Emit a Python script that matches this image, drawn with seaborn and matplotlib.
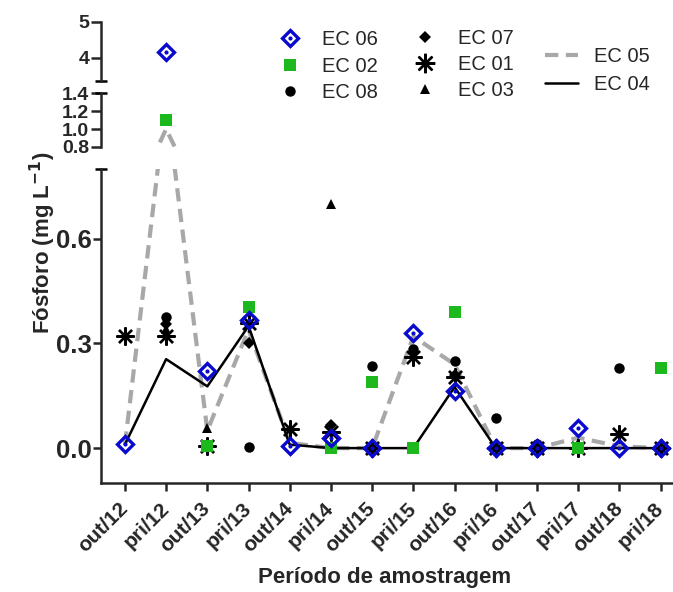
import numpy as np
import pandas as pd
import matplotlib
matplotlib.use("Agg")
import matplotlib.pyplot as plt
import seaborn as sns
from matplotlib.lines import Line2D
from matplotlib.legend_handler import HandlerTuple
from matplotlib.ticker import FixedLocator, FormatStrFormatter

sns.set_theme(style="ticks")
plt.rcParams['font.family'] = ['Liberation Sans', 'DejaVu Sans']

nan = np.nan
categories = ['out/12', 'pri/12', 'out/13', 'pri/13', 'out/14', 'pri/14', 'out/15',
              'pri/15', 'out/16', 'pri/16', 'out/17', 'pri/17', 'out/18', 'pri/18']

ec06 = [0.012, 4.15, 0.22, 0.368, 0.005, 0.03, 0.0, 0.33, 0.163, 0.0, 0.0, 0.057, 0.0, 0.0]
ec02 = [nan, 1.10, 0.005, 0.405, nan, 0.0, 0.19, 0.0, 0.39, nan, nan, 0.0, nan, 0.23]
ec08 = [nan, 0.375, nan, 0.003, nan, nan, 0.234, 0.283, 0.25, 0.085, 0.012, nan, 0.23, nan]
ec07 = [nan, 0.355, nan, 0.30, nan, 0.065, nan, nan, 0.21, nan, nan, nan, nan, nan]
ec01 = [0.32, 0.32, 0.005, 0.36, 0.055, 0.045, 0.0, 0.26, 0.205, 0.0, 0.0, 0.0, 0.04, 0.0]
ec03 = [nan, 0.34, 0.057, nan, nan, 0.70, nan, nan, nan, nan, nan, 0.015, nan, nan]
ec05 = [0.01, 1.0, 0.05, 0.34, 0.015, 0.0, 0.0, 0.32, 0.24, 0.0, 0.0, 0.03, 0.005, 0.0]
ec04 = [0.01, 0.255, 0.177, 0.35, 0.01, 0.0, 0.0, 0.0, 0.175, 0.0, 0.0, 0.0, 0.0, 0.0]

xpos = np.arange(len(categories))
BLUE = '#0A0ACF'
GREEN = '#1DB81D'
GREY = '#A8A8A8'

W, H = 673, 592
fig = plt.figure(figsize=(W / 100, H / 100), dpi=100)

def fx(px):
    return px / W

def fy(py):
    return 1 - py / H

ax_b = fig.add_axes([fx(101), fy(483), fx(673) - fx(101), fy(169) - fy(483)])
ax_m = fig.add_axes([fx(101), fy(147), fx(673) - fx(101), fy(93) - fy(147)])
ax_t = fig.add_axes([fx(101), fy(81), fx(673) - fx(101), fy(22) - fy(81)])
axes = [ax_b, ax_m, ax_t]

df_lines = pd.DataFrame({'x': xpos, 'EC 05': ec05, 'EC 04': ec04})
DASH = (0, (3.2, 1.8))

for ax in axes:
    sns.lineplot(data=df_lines, x='x', y='EC 05', ax=ax, color=GREY, lw=3.0,
                 linestyle=DASH, estimator=None, sort=False, zorder=2)
    sns.lineplot(data=df_lines, x='x', y='EC 04', ax=ax, color='black', lw=1.8,
                 estimator=None, sort=False, zorder=2.1)

    def pts(vals, z, **kw):
        d = pd.DataFrame({'x': xpos, 'y': vals}).dropna()
        sns.lineplot(data=d, x='x', y='y', ax=ax, linestyle='none', estimator=None,
                     sort=False, zorder=z, **kw)

    pts(ec01, 3, marker=(8, 2, 0), markersize=13, color='black', markeredgecolor='black',
        markeredgewidth=1.7)
    pts(ec08, 4, marker='o', markersize=7.5, color='black', markeredgecolor='black',
        markeredgewidth=0)
    pts(ec07, 4.1, marker='D', markersize=6.5, color='black', markeredgecolor='black',
        markeredgewidth=0)
    pts(ec03, 4.2, marker='^', markersize=7.5, color='black', markeredgecolor='black',
        markeredgewidth=0)
    pts(ec02, 5, marker='s', markersize=8.5, color=GREEN, markeredgecolor=GREEN,
        markeredgewidth=0)
    pts(ec06, 6, marker='D', markersize=8.5, color=BLUE, markerfacecolor='none',
        markeredgecolor=BLUE, markeredgewidth=2.4)
    pts(ec06, 6.1, marker='o', markersize=3.0, color=BLUE, markeredgecolor=BLUE,
        markeredgewidth=0)
    ax.set_xlim(-0.58, 13.3)
    ax.set_xlabel('')
    ax.set_ylabel('')
    ax.set_facecolor('none')
    for s in ['top', 'right']:
        ax.spines[s].set_visible(False)
    ax.spines['left'].set_linewidth(1.8)
    ax.tick_params(axis='y', direction='out', length=5.5, width=1.8, pad=1)

ax_b.set_ylim(-0.1, 0.8)
ax_m.set_ylim(0.8, 1.4)
ax_t.set_ylim(3.35, 5)

ax_b.yaxis.set_major_locator(FixedLocator([0.0, 0.3, 0.6]))
ax_b.yaxis.set_major_formatter(FormatStrFormatter('%.1f'))
ax_m.yaxis.set_major_locator(FixedLocator([0.8, 1.0, 1.2, 1.4]))
ax_m.yaxis.set_major_formatter(FormatStrFormatter('%.1f'))
ax_t.yaxis.set_major_locator(FixedLocator([4, 5]))
ax_t.yaxis.set_major_formatter(FormatStrFormatter('%d'))

for ax in [ax_m, ax_t]:
    ax.spines['bottom'].set_visible(False)
    ax.tick_params(axis='x', bottom=False, labelbottom=False)
    ax.tick_params(axis='y', length=7.5)

ax_b.spines['bottom'].set_linewidth(1.8)
ax_b.set_xticks(xpos)
ax_b.set_xticklabels(categories, rotation=45, ha='right', va='center',
                     rotation_mode='anchor', fontsize=15, fontweight='bold')
ax_b.tick_params(axis='x', direction='out', length=6, width=1.8, pad=10)

for lab in ax_b.get_yticklabels():
    lab.set_fontweight('bold')
    lab.set_fontsize(18.5)
for ax in [ax_m, ax_t]:
    for lab in ax.get_yticklabels():
        lab.set_fontweight('bold')
        lab.set_fontsize(14)

# caps at break ends
cw = 6 / (673 - 101)
ax_b.plot([-cw, cw], [1, 1], transform=ax_b.transAxes, color='black', lw=1.8,
          clip_on=False, solid_capstyle='butt')
ax_m.plot([-cw, cw], [1, 1], transform=ax_m.transAxes, color='black', lw=1.8,
          clip_on=False, solid_capstyle='butt')
ax_t.plot([-cw, cw], [0, 0], transform=ax_t.transAxes, color='black', lw=1.8,
          clip_on=False, solid_capstyle='butt')

fig.text(fx(43), fy(243), 'Fósforo (mg L$^{\\mathbf{-1}}$)', rotation=90, ha='center',
         va='center', fontsize=16, fontweight='bold')
fig.text(fx(385), fy(578), 'Período de amostragem', ha='center', va='center',
         fontsize=16, fontweight='bold')

# legends
FS = 14.5
h06 = (Line2D([], [], marker='D', ls='none', ms=8.5, mfc='none', mec=BLUE, mew=2.4),
       Line2D([], [], marker='o', ls='none', ms=3.0, mfc=BLUE, mec=BLUE, mew=0))
h02 = Line2D([], [], marker='s', ls='none', ms=8.5, mfc=GREEN, mec=GREEN, mew=0)
h08 = Line2D([], [], marker='o', ls='none', ms=7.5, mfc='black', mec='black', mew=0)
h07 = Line2D([], [], marker='D', ls='none', ms=6.5, mfc='black', mec='black', mew=0)
h01 = Line2D([], [], marker=(8, 2, 0), ls='none', ms=14, color='black', mew=1.7)
h03 = Line2D([], [], marker='^', ls='none', ms=7.5, mfc='black', mec='black', mew=0)
common = dict(loc='upper left', frameon=False, fontsize=FS, borderpad=0,
              borderaxespad=0, handleheight=0.7)
leg1 = fig.legend([h06, h02, h08], ['EC 06', 'EC 02', 'EC 08'],
                  bbox_to_anchor=(fx(278), fy(30)), handlelength=1.2,
                  handletextpad=1.0, labelspacing=0.38,
                  handler_map={tuple: HandlerTuple(ndivide=1, pad=0)}, **common)
leg2 = fig.legend([h07, h01, h03], ['EC 07', 'EC 01', 'EC 03'],
                  bbox_to_anchor=(fx(413), fy(29)), handlelength=1.2,
                  handletextpad=1.05, labelspacing=0.36, **common)
hl05 = Line2D([], [], color=GREY, lw=3.0, ls=DASH)
hl04 = Line2D([], [], color='black', lw=1.8)
leg3 = fig.legend([hl05, hl04], ['EC 05', 'EC 04'],
                  bbox_to_anchor=(fx(545), fy(47)), handlelength=1.65,
                  handletextpad=0.8, labelspacing=0.45, **common)

fig.savefig('out.png', dpi=100)
